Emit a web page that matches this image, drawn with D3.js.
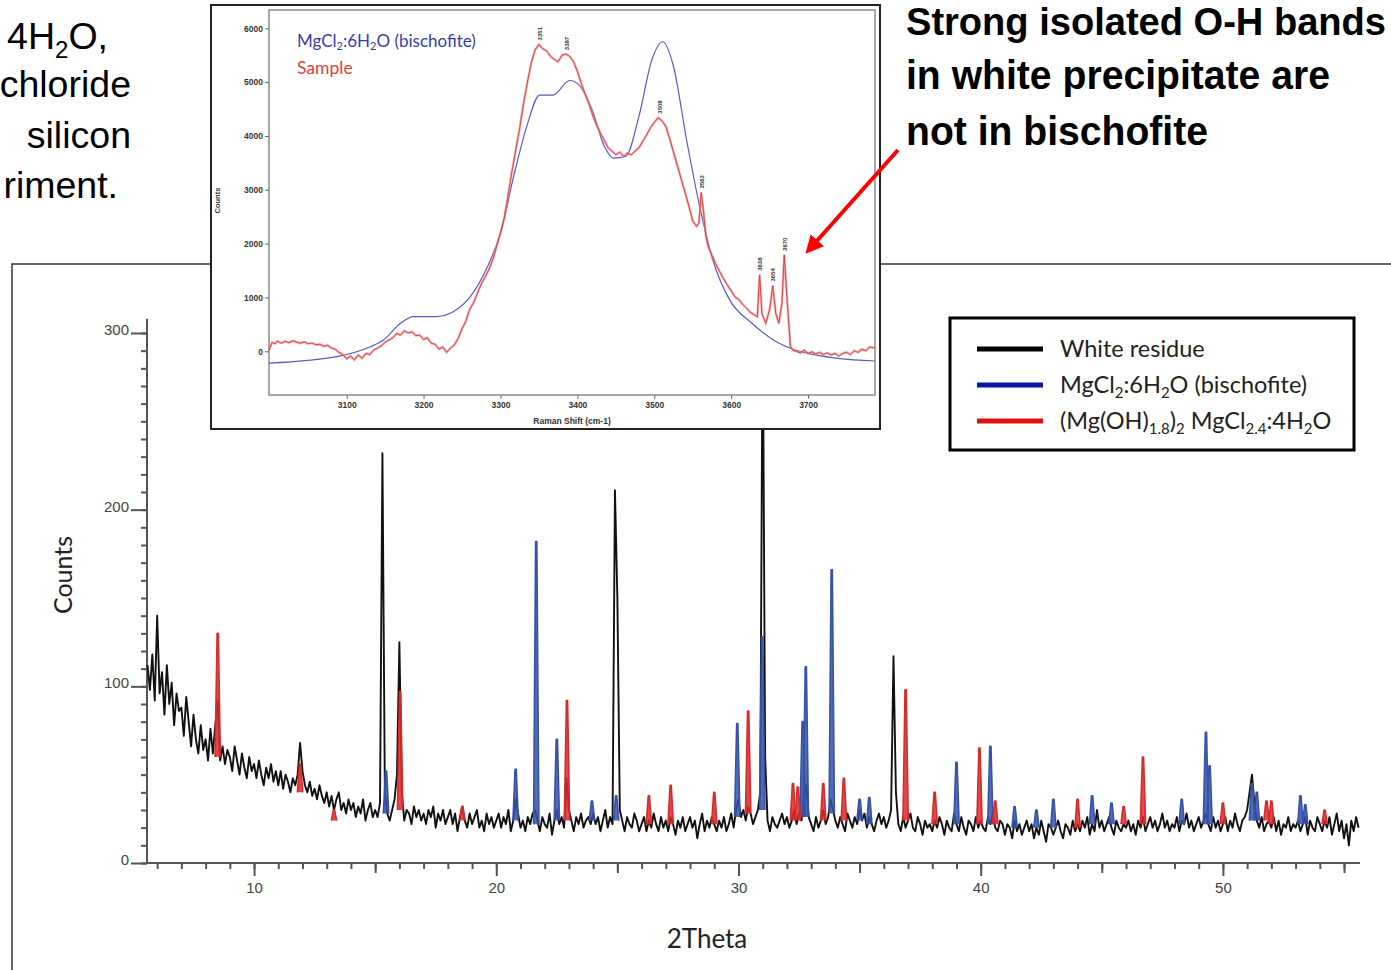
<!DOCTYPE html>
<html><head><meta charset="utf-8">
<script src="https://cdn.jsdelivr.net/npm/d3@7"></script>
<style>body{margin:0;background:#fff;overflow:hidden} svg{display:block}</style>
</head><body>
<svg id="c" width="1391" height="970"></svg>
<script>
// ---------------- DATA ----------------
// XRD pattern of the white residue, sampled every 0.1 deg 2Theta from 5.6
const thetaStart = 5.6, thetaStep = 0.1;
const whiteResidue = [
  112, 98, 118, 92,                                   // 5.6-5.9
  140, 96, 108, 84, 112, 90, 102, 78, 96, 86,         // 6
  88, 72, 94, 80, 66, 84, 70, 62, 78, 64,             // 7
  70, 58, 76, 62, 78, 92, 58, 66, 56, 64,             // 8
  60, 52, 66, 58, 50, 62, 54, 48, 60, 52,             // 9
  56, 48, 58, 50, 44, 54, 48, 56, 46, 52,             // 10
  44, 52, 42, 50, 46, 40, 48, 44, 50, 68,             // 11
  52, 44, 40, 46, 38, 42, 36, 44, 38, 34,             // 12
  40, 32, 38, 30, 36, 40, 30, 34, 28, 36,             // 13
  30, 34, 26, 32, 28, 36, 24, 30, 34, 26,             // 14
  30, 26, 34, 232, 40, 28, 24, 30, 36, 50,            // 15
  125, 40, 24, 30, 28, 22, 32, 26, 30, 24,            // 16
  28, 22, 30, 26, 32, 20, 28, 24, 30, 22,             // 17
  26, 30, 22, 28, 18, 26, 32, 24, 20, 28,             // 18
  22, 26, 30, 20, 24, 18, 28, 22, 26, 20,             // 19
  24, 28, 20, 26, 22, 30, 18, 24, 36, 28,             // 20
  20, 24, 18, 26, 22, 28, 30, 24, 18, 26,             // 21
  22, 20, 28, 16, 24, 30, 22, 26, 20, 48,             // 22
  30, 24, 18, 26, 22, 28, 20, 24, 26, 22,             // 23
  28, 22, 26, 18, 24, 30, 20, 26, 22, 211,            // 24
  150, 30, 24, 18, 26, 22, 20, 28, 24, 18,            // 25
  22, 26, 18, 24, 20, 28, 22, 18, 26, 20,             // 26
  24, 18, 26, 22, 16, 24, 20, 26, 18, 22,             // 27
  26, 20, 24, 14, 22, 28, 18, 24, 20, 26,             // 28
  22, 18, 24, 20, 26, 18, 22, 28, 20, 30,             // 29
  36, 26, 30, 24, 32, 28, 22, 26, 30, 40,             // 30
  320, 60, 24, 18, 26, 22, 20, 24, 28, 22,            // 31
  26, 20, 24, 30, 22, 28, 24, 36, 44, 26,             // 32
  22, 18, 26, 20, 24, 30, 22, 26, 36, 30,             // 33
  24, 20, 26, 22, 18, 28, 24, 20, 26, 22,             // 34
  30, 24, 28, 20, 26, 22, 18, 24, 28, 22,             // 35
  26, 20, 24, 30, 117, 40, 22, 18, 26, 20,            // 36
  24, 28, 20, 18, 26, 22, 16, 24, 20, 22,             // 37
  18, 24, 20, 26, 22, 16, 24, 20, 18, 28,             // 38
  22, 18, 26, 20, 16, 24, 22, 18, 26, 20,             // 39
  24, 20, 18, 26, 22, 28, 20, 18, 24, 22,             // 40
  16, 22, 20, 14, 24, 18, 22, 16, 20, 24,             // 41
  18, 22, 14, 20, 16, 24, 18, 12, 22, 20,             // 42
  16, 20, 24, 18, 14, 22, 20, 16, 24, 18,             // 43
  22, 18, 24, 20, 26, 16, 22, 18, 30, 20,             // 44
  24, 18, 22, 26, 20, 16, 24, 20, 18, 22,             // 45
  20, 24, 18, 22, 16, 24, 20, 26, 18, 22,             // 46
  26, 20, 24, 18, 22, 28, 20, 24, 18, 22,             // 47
  20, 26, 18, 24, 22, 28, 20, 24, 18, 22,             // 48
  26, 20, 24, 28, 22, 18, 26, 20, 24, 18,             // 49
  22, 26, 18, 24, 20, 28, 22, 18, 24, 26,             // 50
  30, 40, 50, 34, 24, 20, 26, 18, 22, 24,             // 51
  20, 26, 18, 24, 16, 22, 20, 26, 18, 22,             // 52
  20, 24, 18, 22, 26, 16, 24, 20, 18, 26,             // 53
  22, 18, 24, 20, 26, 16, 22, 28, 18, 24,             // 54
  14, 22, 10, 24, 18, 26, 20                          // 55.0-55.6
];
// reference peaks: [2Theta, foot, top]
const bischofitePeaks = [
  [15.45, 28, 52], [20.8, 24, 53], [21.65, 22, 182], [22.5, 24, 70], [23.95, 24, 35],
  [24.95, 24, 38], [29.95, 26, 79], [30.98, 30, 128], [32.65, 26, 80], [32.78, 26, 111],
  [33.85, 28, 166], [35.0, 24, 36], [35.4, 22, 37], [39.0, 22, 57], [40.4, 22, 66],
  [41.4, 20, 32], [42.3, 20, 30], [43.0, 20, 36], [44.6, 22, 38], [45.4, 22, 34],
  [48.3, 22, 36], [49.3, 22, 74], [49.45, 22, 55], [51.2, 24, 45], [51.4, 24, 40],
  [53.2, 22, 38], [53.4, 22, 33]
];
const oxychloridePeaks = [
  [8.5, 60, 130], [11.9, 40, 56], [13.3, 24, 30], [16.03, 30, 97], [18.6, 24, 32],
  [22.92, 24, 92], [26.3, 22, 38], [27.2, 22, 44], [29.0, 22, 40], [30.4, 28, 86],
  [32.25, 24, 45], [32.45, 24, 43], [33.5, 24, 45], [34.35, 24, 48], [36.9, 24, 98],
  [38.1, 22, 40], [39.95, 22, 65], [40.6, 22, 35], [44.0, 20, 36], [45.9, 22, 32],
  [46.7, 22, 60], [50.0, 22, 34], [51.8, 24, 35], [52.0, 22, 35], [54.2, 22, 30]
];
const yTicksMain = [0, 100, 200, 300];
const xTicksMain = [10, 20, 30, 40, 50];

// Raman inset: [shift cm-1, counts]
const ramanBischofite = [
  [2999,-220],[3092,-85],[3130,80],[3148,210],[3170,520],[3187,645],[3216,645],[3239,740],
  [3261,1020],[3283,1570],[3300,2190],[3317,3240],[3334,4170],[3351,4760],[3368,4760],
  [3390,5030],[3402,4950],[3419,4490],[3435,3810],[3447,3590],[3463,3620],[3480,4365],
  [3497,5420],[3511,5750],[3525,5290],[3542,3925],[3559,2690],[3576,1700],[3598,955],
  [3627,520],[3655,210],[3683,25],[3711,-70],[3739,-130],[3787,-180]
];
const ramanSample = [
  [2999,20],[3003,165],[3007,140],[3010,190],[3015,150],[3020,185],[3025,160],[3030,195],[3035,170],
  [3040,150],[3045,175],[3050,140],[3055,155],[3060,120],[3065,130],[3070,95],[3075,110],
  [3080,60],[3085,40],[3090,-20],[3095,-60],[3100,-140],[3105,-90],[3110,-160],[3115,-70],
  [3120,-130],[3125,-40],[3130,-60],[3135,20],[3140,60],[3145,100],[3150,170],[3155,210],
  [3160,250],[3165,330],[3170,300],[3175,380],[3180,340],[3185,360],[3190,290],[3195,300],
  [3200,220],[3205,250],[3210,150],[3215,130],[3220,40],[3225,80],[3230,-20],[3235,60],
  [3240,120],[3245,240],[3250,420],[3255,560],[3260,780],[3265,900],[3270,1080],[3275,1250],
  [3280,1380],[3285,1520],[3290,1700],[3295,1950],[3300,2200],[3305,2480],[3310,2900],
  [3315,3350],[3320,3750],[3325,4150],[3330,4600],[3335,5000],[3340,5350],[3345,5600],
  [3350,5700],[3355,5620],[3360,5580],[3365,5480],[3370,5420],[3375,5380],[3380,5500],
  [3385,5520],[3390,5480],[3395,5380],[3400,5200],[3405,4980],[3410,4780],[3415,4600],
  [3420,4380],[3425,4200],[3430,4050],[3435,3920],[3440,3780],[3445,3720],[3450,3650],
  [3455,3700],[3460,3620],[3465,3680],[3470,3650],[3475,3720],[3480,3780],[3485,3900],
  [3490,4020],[3495,4150],[3500,4250],[3505,4340],[3510,4280],[3515,4180],[3520,3950],
  [3525,3700],[3530,3450],[3535,3200],[3540,2950],[3545,2700],[3550,2420],[3555,2320],
  [3558,2380],[3561,2950],[3564,2600],[3567,2150],[3570,1950],[3575,1780],[3580,1620],
  [3585,1480],[3590,1350],[3595,1230],[3600,1120],[3605,1010],[3610,960],[3615,870],
  [3620,800],[3625,720],[3630,680],[3634,640],[3637,1420],[3640,700],[3645,520],[3650,780],
  [3654,1220],[3658,700],[3662,520],[3666,900],[3669,1790],[3673,900],[3677,90],[3680,20],
  [3685,0],[3690,-30],[3695,20],[3700,-40],[3705,-10],[3710,-50],[3715,-20],[3720,-60],
  [3725,-30],[3730,-70],[3735,-40],[3740,-90],[3745,-40],[3750,-20],[3755,-60],[3760,10],
  [3765,-20],[3770,40],[3775,10],[3780,80],[3787,60]
];
const ramanPeakLabels = ["3351", "3387", "3508", "3562", "3638", "3654", "3670"];
const ramanPeakPos = [3351, 3387, 3508, 3562, 3638, 3654, 3670];
const ramanPeakTops = [5700, 5520, 4340, 2950, 1420, 1220, 1790];
const ramanXTicks = [3100, 3200, 3300, 3400, 3500, 3600, 3700];
const ramanYTicks = [0, 1000, 2000, 3000, 4000, 5000, 6000];

// ---------------- DRAW ----------------
const svg = d3.select("#c");
const SANS = "'Liberation Sans', Arial, sans-serif";
const CAL = "Lato, 'Open Sans', sans-serif";

function rich(sel, parts, subSize, shift) {
  let cur = 0;
  parts.forEach(p => {
    const isSub = typeof p !== "string";
    const target = isSub ? shift : 0;
    const ts = sel.append("tspan").text(isSub ? p.sub : p);
    if (target !== cur) ts.attr("dy", target - cur);
    if (isSub) ts.attr("font-size", subSize);
    cur = target;
  });
  return sel;
}

// slide texts
const leftLines = [[["4H", {sub:"2"}, "O,"], 49, 108], [["chloride"], 97, 131],
                   [["silicon"], 148, 131], [["riment."], 198, 118]];
leftLines.forEach(([parts, y, x]) => {
  const t = svg.append("text").attr("x", x).attr("y", y).attr("text-anchor", "end")
    .attr("font-family", SANS).attr("font-size", 37.5).attr("fill", "#000");
  rich(t, parts, 24, 9);
});
const rightLines = [["Strong isolated O-H bands", 35, 480, 38], ["in white precipitate are", 89, 424, 40], ["not in bischofite", 145, 302, 40]];
rightLines.forEach(([s, y, w, fs]) => {
  svg.append("text").attr("x", 906).attr("y", y).attr("font-family", SANS)
    .attr("font-weight", "bold").attr("font-size", fs).attr("textLength", w).attr("lengthAdjust", "spacingAndGlyphs").text(s);
});

// main chart frame
svg.append("path").attr("d", "M12,970 V264 H1391").attr("fill", "none").attr("stroke", "#333").attr("stroke-width", 1.5);

const xMain = d3.scaleLinear().domain([5.58, 55.66]).range([147, 1360]);
const yMain = d3.scaleLinear().domain([0, 300]).range([863, 333]);
const gM = svg.append("g");

// axes
const axCol = "#555";
const yMinor = gM.append("g").attr("transform", `translate(${xMain(5.58)},0)`)
  .call(d3.axisLeft(yMain).tickValues(d3.range(0, 301, 10)).tickSize(6).tickFormat(""));
const yMajor = gM.append("g").attr("transform", `translate(${xMain(5.58)},0)`)
  .call(d3.axisLeft(yMain).tickValues(yTicksMain).tickSize(16).tickPadding(2));
[yMinor, yMajor].forEach(g => { g.select(".domain").remove(); g.selectAll("line").attr("stroke", axCol).attr("stroke-width", 2); });
yMajor.selectAll("text").attr("font-family", SANS).attr("font-size", 15).attr("fill", "#444").attr("dy", "0.1em");
gM.append("line").attr("x1", xMain(5.58)).attr("x2", xMain(5.58)).attr("y1", yMain(308)).attr("y2", yMain(0))
  .attr("stroke", axCol).attr("stroke-width", 2);

const xMinor = gM.append("g").attr("transform", `translate(0,${yMain(0)})`)
  .call(d3.axisBottom(xMain).tickValues(d3.range(6, 56, 1)).tickSize(6).tickFormat(""));
const xMid = gM.append("g").attr("transform", `translate(0,${yMain(0)})`)
  .call(d3.axisBottom(xMain).tickValues([15, 25, 35, 45, 55]).tickSize(10).tickFormat(""));
const xMajor = gM.append("g").attr("transform", `translate(0,${yMain(0)})`)
  .call(d3.axisBottom(xMain).tickValues(xTicksMain).tickSize(13).tickPadding(6));
[xMinor, xMid, xMajor].forEach(g => { g.select(".domain").remove(); g.selectAll("line").attr("stroke", axCol).attr("stroke-width", 2); });
xMajor.selectAll("text").attr("font-family", SANS).attr("font-size", 15).attr("fill", "#444");
gM.append("line").attr("x1", xMain(5.58)).attr("x2", xMain(55.66)).attr("y1", yMain(0)).attr("y2", yMain(0))
  .attr("stroke", axCol).attr("stroke-width", 2);

svg.append("text").attr("transform", `translate(72,575) rotate(-90)`).attr("text-anchor", "middle")
  .attr("font-family", CAL).attr("font-size", 25).attr("fill", "#222").text("Counts");
svg.append("text").attr("x", 707).attr("y", 948).attr("text-anchor", "middle")
  .attr("font-family", CAL).attr("font-size", 26).attr("fill", "#222").text("2Theta");

// white residue line
const blackPts = whiteResidue.map((v, i) => [thetaStart + i * thetaStep, v]);
gM.append("path").datum(blackPts)
  .attr("d", d3.line().x(d => xMain(d[0])).y(d => yMain(d[1])))
  .attr("fill", "none").attr("stroke", "#111").attr("stroke-width", 1.9).attr("stroke-linejoin", "round");

function peaks(data, col) {
  gM.append("g").selectAll("path").data(data).join("path")
    .attr("d", d => d3.line()([[xMain(d[0] - 0.11), yMain(d[1])], [xMain(d[0] - 0.025), yMain(d[2])],
                               [xMain(d[0] + 0.025), yMain(d[2])], [xMain(d[0] + 0.11), yMain(d[1])]]))
    .attr("fill", col).attr("fill-opacity", 0.85).attr("stroke", col).attr("stroke-width", 1.6).attr("stroke-linejoin", "round");
}
peaks(bischofitePeaks, "#3552a8");
peaks(oxychloridePeaks, "#d92a2a");

// legend
const lg = svg.append("g");
lg.append("rect").attr("x", 950).attr("y", 318).attr("width", 404).attr("height", 132)
  .attr("fill", "#fff").attr("stroke", "#000").attr("stroke-width", 3);
const legendItems = [
  ["#000", ["White residue"]],
  ["#0a14a8", ["MgCl", {sub:"2"}, ":6H", {sub:"2"}, "O (bischofite)"]],
  ["#e01010", ["(Mg(OH)", {sub:"1.8"}, ")", {sub:"2"}, " MgCl", {sub:"2.4"}, ":4H", {sub:"2"}, "O"]]
];
legendItems.forEach(([c, parts], i) => {
  const y = 349 + i * 36;
  lg.append("line").attr("x1", 977).attr("x2", 1043).attr("y1", y).attr("y2", y).attr("stroke", c).attr("stroke-width", 5);
  const t = lg.append("text").attr("x", 1060).attr("y", y + 8).attr("font-family", CAL).attr("font-size", 23.5).attr("fill", "#222");
  rich(t, parts, 15, 5);
});

// ---------------- INSET ----------------
const gI = svg.append("g");
gI.append("rect").attr("x", 211).attr("y", 5).attr("width", 669).attr("height", 424)
  .attr("fill", "#fff").attr("stroke", "#222").attr("stroke-width", 2);
const xIn = d3.scaleLinear().domain([2999, 3787]).range([269, 875]);
const yIn = d3.scaleLinear().domain([-812, 6340]).range([395, 10]);
gI.append("rect").attr("x", xIn(2999)).attr("y", yIn(6340)).attr("width", xIn(3787) - xIn(2999))
  .attr("height", yIn(-812) - yIn(6340)).attr("fill", "none").attr("stroke", "#8a8a8a").attr("stroke-width", 1.5);

const iy = gI.append("g").attr("transform", `translate(${xIn(2999)},0)`)
  .call(d3.axisLeft(yIn).tickValues(ramanYTicks).tickSize(4).tickPadding(2).tickFormat(d3.format("d")));
const ix = gI.append("g").attr("transform", `translate(0,${yIn(-812)})`)
  .call(d3.axisBottom(xIn).tickValues(ramanXTicks).tickSize(4).tickPadding(3).tickFormat(d3.format("d")));
[iy, ix].forEach(g => {
  g.select(".domain").remove();
  g.selectAll("line").attr("stroke", "#666");
  g.selectAll("text").attr("font-family", SANS).attr("font-size", 8.5).attr("font-weight", "bold").attr("fill", "#333");
});
gI.append("text").attr("transform", `translate(220,${yIn(2800)}) rotate(-90)`).attr("text-anchor", "middle")
  .attr("font-family", SANS).attr("font-size", 7.5).attr("font-weight", "bold").attr("fill", "#333").text("Counts");
gI.append("text").attr("x", xIn(3393)).attr("y", 424).attr("text-anchor", "middle")
  .attr("font-family", SANS).attr("font-size", 8.5).attr("font-weight", "bold").attr("fill", "#333").text("Raman Shift (cm-1)");

gI.append("path").datum(ramanBischofite)
  .attr("d", d3.line().x(d => xIn(d[0])).y(d => yIn(d[1])).curve(d3.curveMonotoneX))
  .attr("fill", "none").attr("stroke", "#5a5ac8").attr("stroke-width", 1.2);
gI.append("path").datum(ramanSample)
  .attr("d", d3.line().x(d => xIn(d[0])).y(d => yIn(d[1])))
  .attr("fill", "none").attr("stroke", "#f08a8a").attr("stroke-width", 2.4).attr("stroke-opacity", 0.7);
gI.append("path").datum(ramanSample)
  .attr("d", d3.line().x(d => xIn(d[0])).y(d => yIn(d[1])))
  .attr("fill", "none").attr("stroke", "#d83a3a").attr("stroke-width", 0.9);

ramanPeakLabels.forEach((s, i) => {
  gI.append("text").attr("transform", `translate(${xIn(ramanPeakPos[i]) + 2},${yIn(ramanPeakTops[i]) - 4}) rotate(-90)`)
    .attr("font-family", SANS).attr("font-size", 6).attr("font-weight", "bold").attr("fill", "#333").text(s);
});

const il = gI.append("text").attr("x", 297).attr("y", 47).attr("font-family", CAL).attr("font-size", 17).attr("fill", "#3b3ba8");
rich(il, ["MgCl", {sub:"2"}, ":6H", {sub:"2"}, "O (bischofite)"], 11, 3);
gI.append("text").attr("x", 297).attr("y", 74).attr("font-family", CAL).attr("font-size", 17.5).attr("fill", "#e0403a").text("Sample");

// red arrow
const defs = svg.append("defs");
defs.append("marker").attr("id", "ah").attr("viewBox", "0 0 10 10").attr("refX", 2).attr("refY", 5)
  .attr("markerWidth", 4.5).attr("markerHeight", 4.5).attr("orient", "auto")
  .append("path").attr("d", "M0,0 L10,5 L0,10 z").attr("fill", "#f00");
svg.append("line").attr("x1", 898).attr("y1", 150).attr("x2", 815).attr("y2", 243)
  .attr("stroke", "#f00").attr("stroke-width", 4).attr("marker-end", "url(#ah)");
</script>
</body></html>
